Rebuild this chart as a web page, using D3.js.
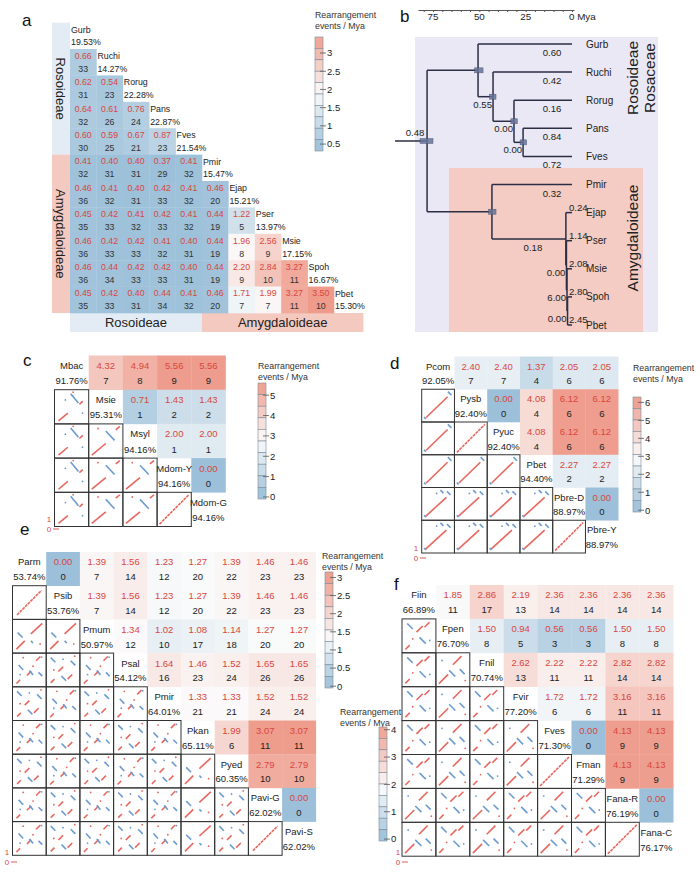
<!DOCTYPE html>
<html>
<head>
<meta charset="utf-8">
<script src="https://cdn.jsdelivr.net/npm/d3@7"></script>
<style>
  body { margin: 0; background: #fff; }
  svg text { font-family: "Liberation Sans", Arial, sans-serif; }
</style>
</head>
<body>
<svg id="fig" width="700" height="877"></svg>
<script>
// ---------- Daten Panel a ----------
const aNames = ["Gurb", "Ruchi", "Rorug", "Pans", "Fves", "Pmir", "Ejap", "Pser", "Msie", "Spoh", "Pbet"];
const aPct = ["19.53%", "14.27%", "22.28%", "22.87%", "21.54%", "15.47%", "15.21%", "13.97%", "17.15%", "16.67%", "15.30%"];
const aRates = [
  [],
  [0.66],
  [0.62, 0.54],
  [0.64, 0.61, 0.76],
  [0.60, 0.59, 0.67, 0.87],
  [0.41, 0.40, 0.40, 0.37, 0.41],
  [0.46, 0.41, 0.40, 0.42, 0.41, 0.46],
  [0.45, 0.42, 0.41, 0.42, 0.41, 0.44, 1.22],
  [0.46, 0.42, 0.42, 0.41, 0.40, 0.44, 1.96, 2.56],
  [0.46, 0.44, 0.42, 0.42, 0.40, 0.44, 2.20, 2.84, 3.27],
  [0.45, 0.42, 0.40, 0.44, 0.41, 0.46, 1.71, 1.99, 3.27, 3.50]
];
const aCounts = [
  [],
  [33],
  [31, 23],
  [32, 26, 24],
  [30, 25, 21, 23],
  [32, 31, 31, 29, 32],
  [36, 32, 31, 33, 32, 20],
  [35, 33, 32, 33, 32, 19, 5],
  [36, 33, 33, 32, 31, 19, 8, 9],
  [36, 34, 33, 33, 31, 19, 9, 10, 11],
  [35, 33, 31, 34, 32, 20, 7, 7, 11, 10]
];
const aGroupNames = ["Rosoideae", "Amygdaloideae"];
const aGroupStart = [0, 5];   // erster Index jeder Gruppe

// ---------- Daten Panel b (Baum) ----------
// [id, parent, Alter in Mya, Rate]
const treeNodes = [
  ["root", "", 78.2, "0.48"],
  ["ros", "root", 50.7, ""],
  ["Gurb", "ros", 0, "0.60"],
  ["n2", "ros", 42.6, "0.55"],
  ["Ruchi", "n2", 0, "0.42"],
  ["n3", "n2", 31.3, "0.00"],
  ["Rorug", "n3", 0, "0.16"],
  ["n4", "n3", 26.4, "0.00"],
  ["Pans", "n4", 0, "0.84"],
  ["Fves", "n4", 0, "0.72"],
  ["amy", "root", 43.2, ""],
  ["Pmir", "amy", 0, "0.32"],
  ["n5", "amy", 3.3, "0.18"],
  ["Ejap", "n5", 0, "0.24"],
  ["n6", "n5", 3.0, "0.00"],
  ["Pser", "n6", 0, "1.14"],
  ["n7", "n6", 2.7, "6.00"],
  ["Msie", "n7", 0, "2.08"],
  ["n8", "n7", 2.4, "0.00"],
  ["Spoh", "n8", 0, "2.80"],
  ["Pbet", "n8", 0, "2.45"]
];
const rootStemAge = 95.5;
// Konfidenzbalken [Knoten, von, bis] in Mya
const hpdBars = [["root", 82, 75], ["ros", 52.5, 48], ["n2", 44.5, 41], ["n3", 33, 29.5], ["n4", 28, 24.5], ["amy", 45, 41]];
const axisTicks = [75, 50, 25, 0];

// ---------- Daten Panel c ----------
const cNames = ["Mbac", "Msie", "Msyl", "Mdom-Y", "Mdom-G"];
const cPct = ["91.76%", "95.31%", "94.16%", "94.16%", "94.16%"];
const cRates = [[4.32, 4.94, 5.56, 5.56], [0.71, 1.43, 1.43], [2.00, 2.00], [0.00], []];
const cCounts = [[7, 8, 9, 9], [1, 2, 2], [1, 1], [0], []];
const cTicks = [0, 1, 2, 3, 4, 5];

// ---------- Daten Panel d ----------
const dNames = ["Pcom", "Pysb", "Pyuc", "Pbet", "Pbre-D", "Pbre-Y"];
const dPct = ["92.05%", "92.40%", "92.40%", "94.40%", "88.97%", "88.97%"];
const dRates = [[2.40, 2.40, 1.37, 2.05, 2.05], [0.00, 4.08, 6.12, 6.12], [4.08, 6.12, 6.12], [2.27, 2.27], [0.00], []];
const dCounts = [[7, 7, 4, 6, 6], [0, 4, 6, 6], [4, 6, 6], [2, 2], [0], []];
const dTicks = [0, 1, 2, 3, 4, 5, 6];

// ---------- Daten Panel e ----------
const eNames = ["Parm", "Psib", "Pmum", "Psal", "Pmir", "Pkan", "Pyed", "Pavi-G", "Pavi-S"];
const ePct = ["53.74%", "53.76%", "50.97%", "54.12%", "64.01%", "65.11%", "60.35%", "62.02%", "62.02%"];
const eRates = [
  [0.00, 1.39, 1.56, 1.23, 1.27, 1.39, 1.46, 1.46],
  [1.39, 1.56, 1.23, 1.27, 1.39, 1.46, 1.46],
  [1.34, 1.02, 1.08, 1.14, 1.27, 1.27],
  [1.64, 1.46, 1.52, 1.65, 1.65],
  [1.33, 1.33, 1.52, 1.52],
  [1.99, 3.07, 3.07],
  [2.79, 2.79],
  [0.00],
  []
];
const eCounts = [
  [0, 7, 14, 12, 20, 22, 23, 23],
  [7, 14, 12, 20, 22, 23, 23],
  [12, 10, 17, 18, 20, 20],
  [16, 23, 24, 26, 26],
  [21, 21, 24, 24],
  [6, 11, 11],
  [10, 10],
  [0],
  []
];
const eTicks = [0, 0.5, 1, 1.5, 2, 2.5, 3];

// ---------- Daten Panel f ----------
const fNames = ["Fiin", "Fpen", "Fnil", "Fvir", "Fves", "Fman", "Fana-R", "Fana-C"];
const fPct = ["66.89%", "76.70%", "70.74%", "77.20%", "71.30%", "71.29%", "76.19%", "76.17%"];
const fRates = [
  [1.85, 2.86, 2.19, 2.36, 2.36, 2.36, 2.36],
  [1.50, 0.94, 0.56, 0.56, 1.50, 1.50],
  [2.62, 2.22, 2.22, 2.82, 2.82],
  [1.72, 1.72, 3.16, 3.16],
  [0.00, 4.13, 4.13],
  [4.13, 4.13],
  [0.00],
  []
];
const fCounts = [
  [11, 17, 13, 14, 14, 14, 14],
  [8, 5, 3, 3, 8, 8],
  [13, 11, 11, 14, 14],
  [6, 6, 11, 11],
  [0, 9, 9],
  [9, 9],
  [0],
  []
];
const fTicks = [0, 1, 2, 3, 4];

// ---------- Dotplot-Muster (Einheitskoordinaten, y nach oben) ----------
const dotPatterns = {
  full: [[0.03, 0.03, 0.97, 0.97, "r"]],
  cA: [[0.08, 0.05, 0.38, 0.3, "r"], [0.75, 0.58, 0.86, 0.68, "r"], [0.47, 0.92, 0.72, 0.62, "b"], [0.3, 0.72, "b"], [0.55, 0.97, "r"], [0.85, 0.3, "b"]],
  cB: [[0.05, 0.05, 0.5, 0.42, "r"], [0.82, 0.86, 0.95, 0.97, "r"], [0.5, 0.82, 0.78, 0.52, "b"], [0.25, 0.9, "r"]],
  dA: [[0.1, 0.1, 0.82, 0.8, "r"], [0.83, 0.97, 0.95, 0.85, "b"], [0.03, 0.12, 0.09, 0.05, "b"]],
  dB: [[0.08, 0.08, 0.78, 0.72, "r"], [0.58, 0.96, 0.68, 0.86, "b"], [0.8, 0.92, 0.92, 0.8, "b"], [0.03, 0.12, 0.09, 0.05, "b"], [0.45, 0.85, "b"]],
  eL: [[0.1, 0.1, 0.9, 0.9, "r"]],
  eM: [[0.08, 0.08, 0.35, 0.35, "r"], [0.55, 0.58, 0.92, 0.92, "r"], [0.12, 0.62, 0.28, 0.46, "b"], [0.55, 0.35, 0.62, 0.28, "b"], [0.85, 0.25, "r"]],
  eS: [[0.08, 0.06, 0.2, 0.18, "r"], [0.42, 0.32, 0.56, 0.46, "r"], [0.72, 0.8, 0.86, 0.94, "r"], [0.15, 0.66, 0.3, 0.5, "b"], [0.5, 0.48, 0.62, 0.34, "b"], [0.8, 0.42, 0.92, 0.3, "b"], [0.3, 0.9, "r"], [0.9, 0.92, "b"], [0.62, 0.62, "r"], [0.2, 0.35, "b"]],
  eT: [[0.1, 0.08, 0.22, 0.2, "r"], [0.35, 0.45, 0.5, 0.6, "r"], [0.65, 0.2, 0.8, 0.35, "r"], [0.1, 0.9, 0.25, 0.75, "b"], [0.45, 0.3, 0.6, 0.15, "b"], [0.75, 0.8, 0.9, 0.65, "b"], [0.88, 0.95, "r"], [0.5, 0.85, "b"], [0.2, 0.5, "r"]],
  fA: [[0.06, 0.06, 0.2, 0.2, "r"], [0.42, 0.62, 0.62, 0.82, "r"], [0.68, 0.78, 0.84, 0.94, "r"], [0.12, 0.9, 0.3, 0.72, "b"], [0.52, 0.45, 0.72, 0.25, "b"], [0.3, 0.4, "r"], [0.85, 0.35, "b"]],
  fB: [[0.05, 0.05, 0.35, 0.35, "r"], [0.5, 0.66, 0.78, 0.94, "r"], [0.38, 0.48, 0.58, 0.28, "b"], [0.72, 0.52, 0.88, 0.36, "b"], [0.15, 0.8, "b"], [0.9, 0.15, "r"]]
};
const cDots = [[], ["cA"], ["cA", "cB"], ["cA", "cB", "cB"], ["cA", "cB", "cB", "full"]];
const dDots = [[], ["dA"], ["dA", "full"], ["dA", "dA", "dA"], ["dB", "dB", "dB", "dB"], ["dB", "dB", "dB", "dB", "full"]];
const eDots = [[], ["eL"], ["eM", "eM"], ["eS", "eT", "eS"], ["eT", "eS", "eT", "eS"], ["eS", "eT", "eS", "eT", "eS"],
  ["eT", "eS", "eT", "eS", "eT", "eM"], ["eS", "eT", "eS", "eT", "eS", "eM", "eT"], ["eS", "eT", "eS", "eT", "eS", "eM", "eT", "eL"]];
const fDots = [[], ["fA"], ["fA", "fB"], ["fA", "fB", "fA"], ["fA", "fB", "fA", "fB"], ["fA", "fB", "fA", "fB", "full"],
  ["fB", "fA", "fB", "fA", "fB", "fA"], ["fB", "fA", "fB", "fA", "fB", "fA", "full"]];

// ---------- Farben ----------
const RED = "#d9473f", INK = "#222";
const DOT_R = "#e8675e", DOT_B = "#6b9bd0";
function diverging(lo, mid, hi) {
  return d3.scaleLinear().domain([lo, mid, hi])
    .range(["#9cc0d9", "#fbfbfb", "#ee9b8b"])
    .interpolate(d3.interpolateRgb).clamp(true);
}

const svg = d3.select("#fig");

// Panel-Buchstaben
function panelLabel(t, x, y) {
  svg.append("text").attr("x", x).attr("y", y).attr("font-size", 17).attr("fill", "#111").text(t);
}

// Legende (gestufte Farbleiste)
function drawLegend(color, o) {
  const g = svg.append("g");
  const s = d3.scaleLinear().domain([o.vBot, o.vTop]).range([o.yBot, o.yTop]);
  const nSeg = 10, h = (o.yBot - o.yTop) / nSeg;
  g.append("text").attr("x", o.tx).attr("y", o.ty).attr("font-size", 8.8).attr("fill", "#333").text("Rearrangement");
  g.append("text").attr("x", o.tx).attr("y", o.ty + 11).attr("font-size", 8.8).attr("fill", "#333").text("events / Mya");
  g.selectAll("rect").data(d3.range(nSeg)).join("rect")
    .attr("x", o.x).attr("y", i => o.yTop + i * h)
    .attr("width", 8).attr("height", h)
    .attr("fill", i => color(s.invert(o.yTop + (i + 0.5) * h)))
    .attr("stroke", "#7d8b98").attr("stroke-width", 0.6);
  g.selectAll("line.tk").data(o.ticks).join("line").attr("class", "tk")
    .attr("x1", o.x + 5).attr("x2", o.x + 11)
    .attr("y1", d => s(d)).attr("y2", d => s(d))
    .attr("stroke", "#555").attr("stroke-width", 0.8);
  g.selectAll("text.tl").data(o.ticks).join("text").attr("class", "tl")
    .attr("x", o.x + 12).attr("y", d => s(d)).attr("dy", "0.35em")
    .attr("font-size", 9.5).attr("fill", INK).text(d => d);
}

// kleiner Achsenschlüssel "1 / 0 ->"
function axisKey(x, y) {
  const g = svg.append("g").attr("fill", RED);
  g.append("text").attr("x", x).attr("y", y - 10).attr("dy", "0.35em").attr("font-size", 8).attr("text-anchor", "middle").text("1");
  g.append("text").attr("x", x).attr("y", y).attr("dy", "0.35em").attr("font-size", 8).attr("text-anchor", "middle").text("0");
  g.append("line").attr("x1", x + 4).attr("x2", x + 10).attr("y1", y).attr("y2", y).attr("stroke", RED).attr("stroke-width", 0.9);
}

// =================== Panel a ===================
(function () {
  const n = aNames.length;
  const x = d3.scaleBand().domain(d3.range(n)).range([70, 70 + n * 26.4]);
  const y = d3.scaleBand().domain(d3.range(n)).range([22.6, 22.6 + n * 26.4]);
  const bw = x.bandwidth();
  const color = diverging(0.37, 1.9, 3.5);
  const fs = 8.8;
  const g = svg.append("g");

  // Gruppenstreifen links und unten
  const groupEnd = aGroupStart.map((s, k) => k + 1 < aGroupStart.length ? aGroupStart[k + 1] : n);
  const stripFill = ["#e3ecf5", "#f3c9c0"];
  aGroupNames.forEach((name, k) => {
    const y0 = y(aGroupStart[k]), y1 = y(groupEnd[k] - 1) + bw;
    g.append("rect").attr("x", 52).attr("y", y0).attr("width", 18).attr("height", y1 - y0).attr("fill", stripFill[k]);
    g.append("text").attr("transform", `translate(61,${(y0 + y1) / 2}) rotate(90)`)
      .attr("text-anchor", "middle").attr("dy", "0.35em").attr("font-size", 13).attr("fill", INK).text(name);
    const x0 = x(aGroupStart[k]), x1 = k === aGroupNames.length - 1 ? x(n - 1) + bw + 3 : x(groupEnd[k]);
    g.append("rect").attr("x", x0).attr("y", y(n - 1) + bw).attr("width", x1 - x0).attr("height", 19).attr("fill", stripFill[k]);
    g.append("text").attr("x", (x0 + x1) / 2).attr("y", y(n - 1) + bw + 9.5).attr("dy", "0.35em")
      .attr("text-anchor", "middle").attr("font-size", 13).attr("fill", INK).text(name);
  });

  // Heatmap-Zellen
  const cells = [];
  aRates.forEach((row, i) => row.forEach((v, j) => cells.push({ i, j, v, c: aCounts[i][j] })));
  g.selectAll("rect.cell").data(cells).join("rect").attr("class", "cell")
    .attr("x", d => x(d.j)).attr("y", d => y(d.i)).attr("width", bw + 0.3).attr("height", bw + 0.3)
    .attr("fill", d => color(d.v));
  g.selectAll("text.rate").data(cells).join("text").attr("class", "rate")
    .attr("x", d => x(d.j) + bw / 2).attr("y", d => y(d.i) + 6.8).attr("dy", "0.35em")
    .attr("text-anchor", "middle").attr("font-size", fs).attr("fill", RED).text(d => d.v.toFixed(2));
  g.selectAll("text.cnt").data(cells).join("text").attr("class", "cnt")
    .attr("x", d => x(d.j) + bw / 2).attr("y", d => y(d.i) + 19.8).attr("dy", "0.35em")
    .attr("text-anchor", "middle").attr("font-size", fs).attr("fill", "#333").text(d => d.c);

  // Diagonale: Name + Prozent
  g.selectAll("text.nm").data(aNames).join("text").attr("class", "nm")
    .attr("x", (d, i) => x(i) + 1).attr("y", (d, i) => y(i) + 7).attr("dy", "0.35em")
    .attr("font-size", fs).attr("fill", INK).text(d => d);
  g.selectAll("text.pc").data(aPct).join("text").attr("class", "pc")
    .attr("x", (d, i) => x(i) + 1).attr("y", (d, i) => y(i) + 19.8).attr("dy", "0.35em")
    .attr("font-size", fs).attr("fill", INK).text(d => d);

  drawLegend(color, { x: 315, yTop: 37, yBot: 151, vTop: 3.44, vBot: 0.31, ticks: [0.5, 1, 1.5, 2, 2.5, 3], tx: 315, ty: 18 });
  panelLabel("a", 22, 26);
})();

// =================== Panel b ===================
(function () {
  const g = svg.append("g");
  const ageX = d3.scaleLinear().domain([0, 75]).range([572, 433]);
  const root = d3.stratify().id(d => d[0]).parentId(d => d[1] || null)(treeNodes);
  const tips = root.leaves();
  const tipY = d3.scaleLinear().domain([0, tips.length - 1]).range([44, 325]);
  tips.forEach((t, i) => t.py = tipY(i));
  root.eachAfter(d => {
    if (d.children) d.py = (d.children[0].py + d.children[d.children.length - 1].py) / 2;
    d.px = ageX(d.data[2]);
  });

  // Hintergründe
  g.append("rect").attr("x", 415).attr("y", 37).attr("width", 243).attr("height", 295).attr("fill", "#eae8f5");
  g.append("rect").attr("x", 449).attr("y", 168).attr("width", 194).attr("height", 164).attr("fill", "#f4ccc3");

  // Zeitachse
  const axS = d3.scaleLinear().domain([ageX.invert(418), ageX.invert(574)]).range([418, 574]);
  g.append("g").attr("transform", "translate(0,10)")
    .call(d3.axisBottom(axS).tickValues(d3.range(0, 81, 5)).tickSize(2).tickSizeOuter(0).tickFormat(""))
    .call(a => a.select(".domain").attr("stroke", "#555"))
    .call(a => a.selectAll(".tick line").attr("stroke", "#555"));
  g.selectAll("text.ax").data(axisTicks).join("text").attr("class", "ax")
    .attr("x", d => d === 0 ? ageX(d) - 3 : ageX(d)).attr("y", 20)
    .attr("text-anchor", d => d === 0 ? "start" : "middle")
    .attr("font-size", 9.8).attr("fill", INK).text(d => d === 0 ? "0 Mya" : d);

  const lc = "#2b2e45";
  // Stamm
  g.append("line").attr("x1", ageX(rootStemAge)).attr("x2", root.px).attr("y1", root.py).attr("y2", root.py)
    .attr("stroke", lc).attr("stroke-width", 1.5);
  // Äste
  root.descendants().forEach(d => {
    if (d.parent) g.append("line").attr("x1", d.parent.px).attr("x2", d.px).attr("y1", d.py).attr("y2", d.py)
      .attr("stroke", lc).attr("stroke-width", 1.5);
    if (d.children) g.append("line").attr("x1", d.px).attr("x2", d.px)
      .attr("y1", d.children[0].py).attr("y2", d.children[d.children.length - 1].py)
      .attr("stroke", lc).attr("stroke-width", 1.5);
  });
  // Konfidenzbalken
  const byId = new Map(root.descendants().map(d => [d.id, d]));
  g.selectAll("rect.hpd").data(hpdBars).join("rect").attr("class", "hpd")
    .attr("x", d => ageX(d[1])).attr("width", d => ageX(d[2]) - ageX(d[1]))
    .attr("y", d => byId.get(d[0]).py - 2.5).attr("height", 5)
    .attr("fill", "#67759a").attr("opacity", 0.85).attr("stroke", "#3d4866").attr("stroke-width", 0.5);

  // Raten an den Ästen
  root.descendants().forEach(d => {
    const lab = d.data[3];
    if (!lab) return;
    let tx, ty, anchor;
    if (!d.parent) { tx = d.px - 12; ty = d.py - 5; anchor = "middle"; }
    else if (!d.children && d.parent.data[2] < 10) { tx = d.px - 3; ty = d.py - 2; anchor = "start"; }
    else if (!d.children) { tx = d.px - 20; ty = d.py + 12; anchor = "middle"; }
    else if (d.parent.data[2] - d.data[2] > 20) { tx = (d.parent.px + d.px) / 2 + 4; ty = d.py + 12; anchor = "middle"; }
    else { tx = d.px - 1; ty = d.py + 11; anchor = "end"; }
    g.append("text").attr("x", tx).attr("y", ty).attr("text-anchor", anchor)
      .attr("font-size", 9.6).attr("fill", INK).text(lab);
  });
  // Artnamen
  g.selectAll("text.tip").data(tips).join("text").attr("class", "tip")
    .attr("x", 586).attr("y", d => d.py).attr("dy", "0.35em")
    .attr("font-size", 10).attr("fill", INK).text(d => d.id);

  // Gruppenbeschriftungen
  const vlab = (t, x, y) => g.append("text").attr("transform", `translate(${x},${y}) rotate(-90)`)
    .attr("text-anchor", "middle").attr("dy", "0.35em").attr("font-size", 15.5).attr("fill", INK).text(t);
  vlab("Rosoideae", 633, 78);
  vlab("Rosaceae", 650, 78);
  vlab("Amygdaloideae", 633, 238);
  panelLabel("b", 400, 22);
})();

// =================== Panels c-f ===================
function drawMatrix(cfg) {
  const n = cfg.names.length;
  const x = d3.scaleBand().domain(d3.range(n)).range([cfg.left, cfg.left + n * cfg.cell]);
  const y = d3.scaleBand().domain(d3.range(n)).range([cfg.top, cfg.top + n * cfg.cell]);
  const bw = x.bandwidth();
  const g = svg.append("g");

  // obere Dreieckszellen
  const cells = [];
  cfg.rates.forEach((row, i) => row.forEach((v, k) => cells.push({ i, j: i + 1 + k, v, c: cfg.counts[i][k] })));
  g.selectAll("rect.cell").data(cells).join("rect").attr("class", "cell")
    .attr("x", d => x(d.j)).attr("y", d => y(d.i)).attr("width", bw + 0.3).attr("height", bw + 0.3)
    .attr("fill", d => cfg.color(d.v));
  g.selectAll("text.rate").data(cells).join("text").attr("class", "rate")
    .attr("x", d => x(d.j) + bw / 2).attr("y", d => y(d.i) + bw * 0.3).attr("dy", "0.35em")
    .attr("text-anchor", "middle").attr("font-size", 9.5).attr("fill", RED).text(d => d.v.toFixed(2));
  g.selectAll("text.cnt").data(cells).join("text").attr("class", "cnt")
    .attr("x", d => x(d.j) + bw / 2).attr("y", d => y(d.i) + bw * 0.74).attr("dy", "0.35em")
    .attr("text-anchor", "middle").attr("font-size", 9.5).attr("fill", INK).text(d => d.c);

  // Diagonale
  g.selectAll("text.nm").data(cfg.names).join("text").attr("class", "nm")
    .attr("x", (d, i) => x(i) + bw / 2).attr("y", (d, i) => y(i) + bw * 0.3).attr("dy", "0.35em")
    .attr("text-anchor", "middle").attr("font-size", 9.5).attr("fill", INK).text(d => d);
  g.selectAll("text.pc").data(cfg.pct).join("text").attr("class", "pc")
    .attr("x", (d, i) => x(i) + bw / 2).attr("y", (d, i) => y(i) + bw * 0.74).attr("dy", "0.35em")
    .attr("text-anchor", "middle").attr("font-size", 9.5).attr("fill", INK).text(d => d);

  // untere Dreieckszellen: Dotplots
  cfg.dots.forEach((row, i) => row.forEach((pat, j) => {
    const cg = g.append("g");
    const ux = d3.scaleLinear().domain([0, 1]).range([x(j) + 1.5, x(j) + bw - 1.5]);
    const uy = d3.scaleLinear().domain([0, 1]).range([y(i) + bw - 1.5, y(i) + 1.5]);
    const segs = dotPatterns[pat];
    cg.selectAll("line").data(segs.filter(s => s.length === 5)).join("line")
      .attr("x1", s => ux(s[0])).attr("y1", s => uy(s[1])).attr("x2", s => ux(s[2])).attr("y2", s => uy(s[3]))
      .attr("stroke", s => s[4] === "r" ? DOT_R : DOT_B).attr("stroke-width", 1.6)
      .attr("stroke-dasharray", pat === "full" || pat === "eL" ? "3,0.8" : null);
    cg.selectAll("circle").data(segs.filter(s => s.length === 3)).join("circle")
      .attr("cx", s => ux(s[0])).attr("cy", s => uy(s[1])).attr("r", 0.9)
      .attr("fill", s => s[2] === "r" ? DOT_R : DOT_B);
    cg.append("rect").attr("x", x(j)).attr("y", y(i)).attr("width", bw).attr("height", bw)
      .attr("fill", "none").attr("stroke", "#333").attr("stroke-width", 1);
  }));

  axisKey(cfg.key[0], cfg.key[1]);
}

// Panel c
(function () {
  const color = diverging(0, 2.8, 5.6);
  drawMatrix({ names: cNames, pct: cPct, rates: cRates, counts: cCounts, dots: cDots,
    left: 54.5, top: 355.5, cell: 34.2, color, key: [49, 529] });
  drawLegend(color, { x: 258, yTop: 383, yBot: 499, vTop: 5.6, vBot: -0.1, ticks: cTicks, tx: 258, ty: 369 });
  panelLabel("c", 23, 366);
})();

// Panel d
(function () {
  const color = diverging(0, 3.0, 6.2);
  drawMatrix({ names: dNames, pct: dPct, rates: dRates, counts: dCounts, dots: dDots,
    left: 421.7, top: 356.5, cell: 32.75, color, key: [416, 558] });
  drawLegend(color, { x: 633, yTop: 397, yBot: 512, vTop: 6.3, vBot: -0.1, ticks: dTicks, tx: 633, ty: 371 });
  panelLabel("d", 390, 369);
})();

// Panel e
(function () {
  const color = diverging(0, 1.3, 3.1);
  drawMatrix({ names: eNames, pct: ePct, rates: eRates, counts: eCounts, dots: eDots,
    left: 12.5, top: 552, cell: 33.7, color, key: [7, 862] });
  drawLegend(color, { x: 325, yTop: 572, yBot: 688, vTop: 3.15, vBot: -0.05, ticks: eTicks, tx: 322, ty: 559 });
  panelLabel("e", 20, 535);
})();

// Panel f
(function () {
  const color = diverging(0, 1.9, 4.2);
  drawMatrix({ names: fNames, pct: fPct, rates: fRates, counts: fCounts, dots: fDots,
    left: 402, top: 585, cell: 33.9, color, key: [398, 862] });
  drawLegend(color, { x: 379, yTop: 727, yBot: 841, vTop: 4.1, vBot: -0.07, ticks: fTicks, tx: 340, ty: 715 });
  panelLabel("f", 394, 590);
})();
</script>
</body>
</html>
